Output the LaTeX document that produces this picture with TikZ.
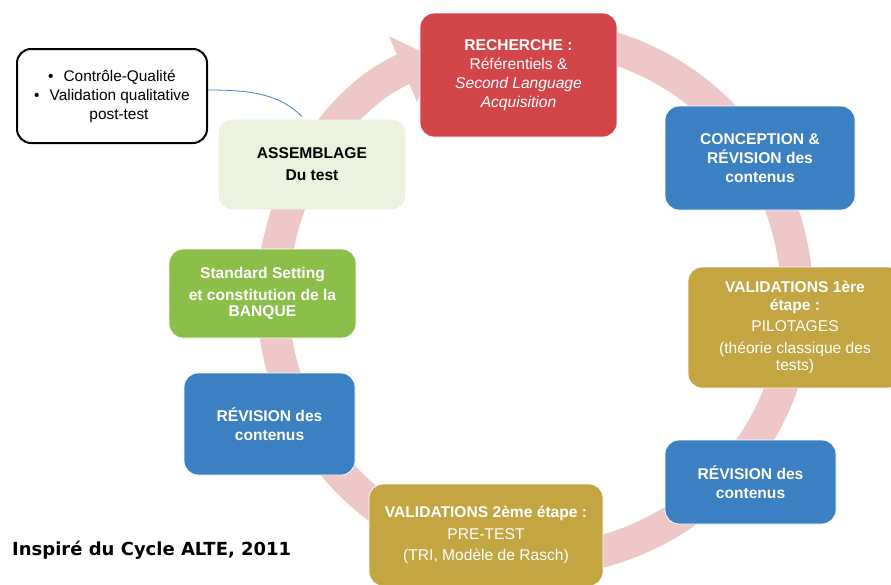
\documentclass[tikz,border=0pt]{standalone}
\usepackage{fontspec}
\setmainfont{Liberation Sans}
\newfontfamily\capfont{DejaVu Sans}
\usetikzlibrary{arrows.meta}
\definecolor{ringpink}{RGB}{238,200,200}
\definecolor{bxred}{RGB}{210,70,74}
\definecolor{bxblue}{RGB}{59,128,194}
\definecolor{bxgold}{RGB}{195,166,66}
\definecolor{bxgreen}{RGB}{140,190,74}
\definecolor{bxlight}{RGB}{235,242,222}
\definecolor{linkblue}{RGB}{70,130,200}
\tikzset{
  box/.style={rounded corners=14pt, draw=white, line width=0.8pt, align=center,
    text=white, inner sep=0pt, font=\fontsize{15.6}{19}\selectfont},
  callout/.style={rounded corners=14pt, draw=black, line width=2pt, fill=white,
    align=center, inner sep=0pt, font=\fontsize{15.4}{19}\selectfont},
  ring/.style={draw=ringpink, line width=32pt,
    -{Triangle[width=70pt,length=32pt]}},
  link/.style={draw=linkblue, line width=0.8pt}
}
\begin{document}
\begin{tikzpicture}[x=1pt,y=-1pt]
\clip (0,0) rectangle (891,584);
\useasboundingbox (0,0) rectangle (891,584);
\fill[white] (0,0) rectangle (891,584);
% ring
\coordinate (ringstart) at (557.8,37);
\draw[ring] (ringstart) arc[start angle=275, end angle=607, radius=262];
% boxes
\node[callout, minimum width=190pt, minimum height=94pt] (ctrl) at (112,96)
  {\textbullet\hspace{10pt}Contrôle-Qualité\\
   \textbullet\hspace{10pt}Validation qualitative\\
   \hspace{14pt}post-test};
\node[box, fill=bxlight, draw=bxlight, text=black, minimum width=186pt, minimum height=89pt] (asm) at (312,164.5)
  {\textbf{ASSEMBLAGE}\\[3pt]\textbf{Du test}};
\node[box, fill=bxred, minimum width=197pt, minimum height=124pt] (rech) at (518.5,75)
  {\textbf{RECHERCHE :}\\Référentiels \&\\\textit{Second Language}\\\textit{Acquisition}};
\node[box, fill=bxblue, minimum width=190pt, minimum height=104pt] (conc) at (760,158)
  {\textbf{CONCEPTION \&}\\\textbf{RÉVISION des}\\\textbf{contenus}};
\node[box, fill=bxgold, minimum width=214pt, minimum height=121pt] (val1) at (795,327.5)
  {\textbf{VALIDATIONS 1ère}\\[-1pt]\textbf{étape :}\\[2pt]PILOTAGES\\[3pt](théorie classique des\\[-2pt]tests)};
\node[box, fill=bxblue, minimum width=171pt, minimum height=84pt] (rev1) at (750.5,482)
  {\textbf{RÉVISION des}\\\textbf{contenus}};
\node[box, fill=bxgold, minimum width=234pt, minimum height=102pt] (val2) at (486,535)
  {\textbf{VALIDATIONS 2ème étape :}\\[3pt]PRE-TEST\\[2pt](TRI, Modèle de Rasch)};
\node[box, fill=bxblue, minimum width=171pt, minimum height=102pt] (rev2) at (269.5,424)
  {\textbf{RÉVISION des}\\\textbf{contenus}};
\node[box, fill=bxgreen, minimum width=187pt, minimum height=89pt] (std) at (262.5,293.5)
  {\textbf{Standard Setting}\\[3pt]\textbf{et constitution de la}\\[-3pt]\textbf{BANQUE}};
% connector
\draw[link] ([yshift=6pt]ctrl.east) .. controls +(45,0) and +(-22,-22) .. ([xshift=-10pt,yshift=3pt]asm.north);
% caption
\node[anchor=west, inner sep=0pt, font=\capfont\bfseries\fontsize{18}{21}\selectfont] (cap) at (12,550)
  {Inspiré du Cycle ALTE, 2011};
\end{tikzpicture}
\end{document}
